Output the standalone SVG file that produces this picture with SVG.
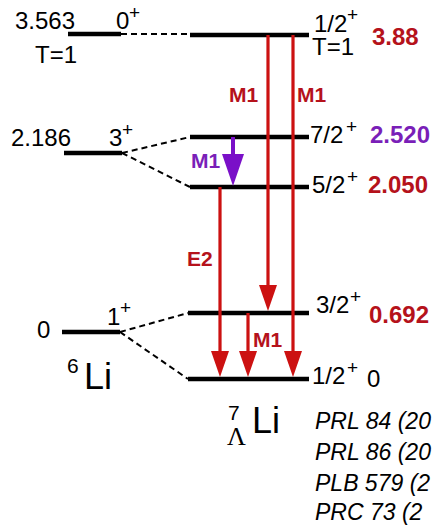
<svg xmlns="http://www.w3.org/2000/svg" width="435" height="525" viewBox="0 0 435 525">
<style>
text{font-family:"Liberation Sans",Arial,sans-serif;fill:#000}
.lv{stroke:#000;stroke-width:4.5;fill:none}
.ds{stroke:#000;stroke-width:2;stroke-dasharray:6,4;fill:none}
.ra{stroke:#cc1111;stroke-width:3.2;fill:none}
.pa{stroke:#7a10c8;stroke-width:4;fill:none}
.n{font-size:24px}
.sup{font-size:19px}
.rt{font-size:24px;font-weight:bold;fill:#b5121b}
.pt{font-size:24px;font-weight:bold;fill:#7a1fb8}
.ml{font-size:21px;font-weight:bold;fill:#b5121b}
.ref{font-size:23px;font-style:italic}
</style>
<defs>
<marker id="rh" viewBox="0 0 26 18" refX="20" refY="9" markerWidth="26" markerHeight="18" markerUnits="userSpaceOnUse" orient="auto"><path d="M0,0 L26,9 L0,18 z" fill="#cc1111"/></marker>
<marker id="ph" viewBox="0 0 32 22" refX="26" refY="11" markerWidth="32" markerHeight="22" markerUnits="userSpaceOnUse" orient="auto"><path d="M0,0 L32,11 L0,22 z" fill="#7a10c8"/></marker>
</defs>

<g id="li6-3563">
<line class="lv" x1="68" y1="34" x2="121" y2="34"/>
<text class="n" x="15" y="29">3.563</text>
<text class="n" x="35" y="63">T=1</text>
<text class="n" x="116" y="29">0</text><text class="sup" x="129" y="19">+</text>
</g>
<g id="li6-2186">
<line class="lv" x1="64" y1="153" x2="122" y2="153"/>
<text class="n" x="11" y="146">2.186</text>
<text class="n" x="109" y="146">3</text><text class="sup" x="122" y="136">+</text>
</g>
<g id="li6-0">
<line class="lv" x1="62" y1="332" x2="120" y2="332"/>
<text class="n" x="37" y="338">0</text>
<text class="n" x="107" y="325">1</text><text class="sup" x="120" y="314">+</text>
<text x="67" y="373" style="font-size:21px">6</text><text x="84" y="389" style="font-size:36px">Li</text>
</g>

<g id="l7-12T1">
<line class="lv" x1="190" y1="35" x2="309" y2="35"/>
<text class="n" x="314" y="32">1/2</text><text class="sup" x="347" y="21">+</text>
<text class="n" x="312" y="55">T=1</text>
<text class="rt" x="372" y="45">3.88</text>
</g>
<g id="l7-72">
<line class="lv" x1="190" y1="137" x2="309" y2="137"/>
<text class="n" x="310" y="143">7/2</text><text class="sup" x="346" y="133">+</text>
<text class="pt" x="370" y="143">2.520</text>
</g>
<g id="l7-52">
<line class="lv" x1="190" y1="187" x2="309" y2="187"/>
<text class="n" x="312" y="193">5/2</text><text class="sup" x="347" y="183">+</text>
<text class="rt" x="368" y="193">2.050</text>
</g>
<g id="l7-32">
<line class="lv" x1="188" y1="313" x2="309" y2="313"/>
<text class="n" x="316" y="313">3/2</text><text class="sup" x="350" y="303">+</text>
<text class="rt" x="369" y="323">0.692</text>
</g>
<g id="l7-12">
<line class="lv" x1="188" y1="379" x2="309" y2="379"/>
<text class="n" x="312" y="384">1/2</text><text class="sup" x="347" y="374">+</text>
<text class="n" x="367" y="387">0</text>
</g>
<g id="l7-name">
<text x="228" y="420" style="font-size:21px">7</text>
<text x="227" y="445" style="font-size:26px;font-family:'Liberation Serif',serif">Λ</text>
<text x="252" y="433" style="font-size:36px">Li</text>
</g>
<g id="refs">
<text class="ref" x="315" y="429">PRL 84 (20</text>
<text class="ref" x="315" y="460">PRL 86 (20</text>
<text class="ref" x="315" y="491">PLB 579 (2</text>
<text class="ref" x="315" y="520">PRC 73 (2</text>
</g>

<g id="connectors">
<line class="ds" x1="121" y1="34" x2="190" y2="34"/>
<line class="ds" x1="122" y1="153" x2="190" y2="137"/>
<line class="ds" x1="122" y1="153" x2="190" y2="187"/>
<line class="ds" x1="120" y1="332" x2="188" y2="313"/>
<line class="ds" x1="120" y1="332" x2="188" y2="379"/>
<line class="ra" x1="268" y1="35" x2="268" y2="305" marker-end="url(#rh)"/>
<line class="ra" x1="293" y1="35" x2="293" y2="371" marker-end="url(#rh)"/>
<line class="ra" x1="220" y1="187" x2="220" y2="371" marker-end="url(#rh)"/>
<line class="ra" x1="248" y1="313" x2="248" y2="371" marker-end="url(#rh)"/>
<line class="pa" x1="233" y1="137" x2="233" y2="180" marker-end="url(#ph)"/>
<text class="ml" x="229" y="102">M1</text>
<text class="ml" x="297" y="102">M1</text>
<text x="191" y="168" style="font-size:21px;font-weight:bold;fill:#7a1fb8">M1</text>
<text class="ml" x="187" y="266">E2</text>
<text class="ml" x="253" y="347">M1</text>
</g>
</svg>
